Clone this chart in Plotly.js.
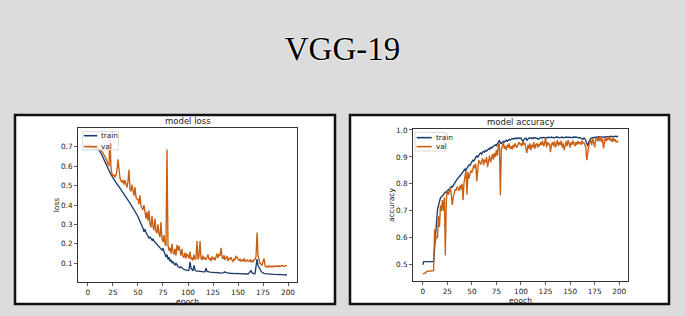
<!DOCTYPE html>
<html>
<head>
<meta charset="utf-8">
<script src="https://cdn.plot.ly/plotly-3.0.1.min.js"></script>
<style>
  html, body { margin: 0; padding: 0; background: #dcdcdc; }
  #chart { width: 685px; height: 316px; }
</style>
</head>
<body>
<div id="chart"></div>
<script>
// values, one per epoch (0..199)
const lossTrain = [
  0.705, 0.700, 0.698, 0.697, 0.696, 0.695, 0.694, 0.693, 0.692, 0.690,
  0.688, 0.683, 0.676, 0.668, 0.657, 0.645, 0.634, 0.622, 0.610, 0.598,
  0.585, 0.572, 0.562, 0.556, 0.549, 0.540, 0.532, 0.524, 0.517, 0.509,
  0.500, 0.494, 0.487, 0.478, 0.470, 0.462, 0.456, 0.449, 0.441, 0.436,
  0.430, 0.418, 0.410, 0.402, 0.392, 0.385, 0.379, 0.370, 0.360, 0.350,
  0.340, 0.329, 0.318, 0.306, 0.294, 0.280, 0.262, 0.275, 0.258, 0.246,
  0.238, 0.230, 0.235, 0.226, 0.220, 0.225, 0.214, 0.208, 0.203, 0.197,
  0.192, 0.188, 0.183, 0.172, 0.168, 0.178, 0.158, 0.150, 0.132, 0.145,
  0.120, 0.132, 0.110, 0.118, 0.102, 0.108, 0.096, 0.092, 0.100, 0.088,
  0.084, 0.080, 0.078, 0.082, 0.074, 0.072, 0.069, 0.067, 0.066, 0.064,
  0.063, 0.065, 0.108, 0.075, 0.068, 0.062, 0.090, 0.066, 0.061, 0.060,
  0.061, 0.059, 0.058, 0.060, 0.057, 0.058, 0.056, 0.057, 0.075, 0.058,
  0.055, 0.056, 0.055, 0.054, 0.055, 0.053, 0.054, 0.052, 0.053, 0.052,
  0.051, 0.052, 0.050, 0.051, 0.050, 0.051, 0.053, 0.056, 0.052, 0.050,
  0.049, 0.050, 0.049, 0.048, 0.049, 0.048, 0.047, 0.048, 0.047, 0.048,
  0.047, 0.046, 0.047, 0.046, 0.047, 0.046, 0.045, 0.046, 0.045, 0.046,
  0.045, 0.050, 0.058, 0.062, 0.052, 0.048, 0.046, 0.047, 0.080, 0.122,
  0.090, 0.078, 0.068, 0.060, 0.054, 0.050, 0.048, 0.047, 0.046, 0.045,
  0.045, 0.044, 0.044, 0.043, 0.044, 0.043, 0.043, 0.042, 0.043, 0.042,
  0.042, 0.043, 0.042, 0.042, 0.041, 0.042, 0.041, 0.042, 0.041, 0.041
];
const lossVal = [
  0.720, 0.705, 0.700, 0.702, 0.698, 0.700, 0.697, 0.699, 0.696, 0.695,
  0.693, 0.690, 0.688, 0.684, 0.676, 0.668, 0.660, 0.652, 0.640, 0.625,
  0.612, 0.600, 0.755, 0.590, 0.560, 0.548, 0.556, 0.545, 0.552, 0.580,
  0.635, 0.560, 0.540, 0.525, 0.515, 0.530, 0.505, 0.528, 0.498, 0.490,
  0.520, 0.582, 0.480, 0.470, 0.505, 0.460, 0.448, 0.492, 0.440, 0.430,
  0.430, 0.405, 0.450, 0.395, 0.385, 0.375, 0.400, 0.345, 0.330, 0.365,
  0.320, 0.372, 0.300, 0.285, 0.345, 0.290, 0.270, 0.330, 0.265, 0.255,
  0.300, 0.250, 0.235, 0.312, 0.225, 0.210, 0.245, 0.200, 0.190, 0.685,
  0.195, 0.165, 0.180, 0.150, 0.200, 0.160, 0.145, 0.175, 0.140, 0.195,
  0.165, 0.190, 0.150, 0.140, 0.175, 0.135, 0.130, 0.155, 0.125, 0.150,
  0.140, 0.125, 0.160, 0.120, 0.130, 0.115, 0.145, 0.120, 0.125, 0.215,
  0.120, 0.135, 0.215, 0.125, 0.118, 0.140, 0.120, 0.130, 0.118, 0.135,
  0.145, 0.120, 0.125, 0.112, 0.135, 0.120, 0.130, 0.115, 0.142, 0.150,
  0.128, 0.148, 0.138, 0.180, 0.132, 0.122, 0.142, 0.118, 0.128, 0.138,
  0.112, 0.128, 0.120, 0.132, 0.116, 0.110, 0.124, 0.116, 0.138, 0.128,
  0.125, 0.115, 0.120, 0.110, 0.118, 0.112, 0.125, 0.108, 0.115, 0.118,
  0.110, 0.112, 0.120, 0.105, 0.115, 0.108, 0.118, 0.120, 0.135, 0.258,
  0.140, 0.110, 0.100, 0.095, 0.090, 0.110, 0.125, 0.088, 0.082, 0.085,
  0.080, 0.088, 0.082, 0.086, 0.080, 0.085, 0.088, 0.082, 0.086, 0.084,
  0.087, 0.083, 0.088, 0.085, 0.090, 0.086, 0.084, 0.088, 0.090, 0.088
];
const accTrain = [
  0.500, 0.512, 0.512, 0.512, 0.512, 0.512, 0.512, 0.512, 0.512, 0.512,
  0.512, 0.512, 0.560, 0.620, 0.680, 0.705, 0.720, 0.735, 0.748, 0.752,
  0.755, 0.760, 0.765, 0.770, 0.768, 0.775, 0.780, 0.778, 0.785, 0.790,
  0.788, 0.795, 0.800, 0.808, 0.812, 0.818, 0.822, 0.828, 0.832, 0.835,
  0.840, 0.845, 0.850, 0.855, 0.852, 0.860, 0.866, 0.870, 0.868, 0.878,
  0.882, 0.888, 0.885, 0.892, 0.900, 0.905, 0.898, 0.908, 0.912, 0.915,
  0.910, 0.918, 0.920, 0.918, 0.925, 0.922, 0.928, 0.930, 0.928, 0.935,
  0.933, 0.938, 0.940, 0.942, 0.945, 0.942, 0.948, 0.955, 0.962, 0.952,
  0.950, 0.955, 0.958, 0.955, 0.960, 0.962, 0.958, 0.963, 0.965, 0.962,
  0.965, 0.968, 0.966, 0.968, 0.970, 0.967, 0.970, 0.968, 0.971, 0.969,
  0.970, 0.962, 0.958, 0.965, 0.968, 0.970, 0.962, 0.968, 0.970, 0.971,
  0.970, 0.968, 0.971, 0.969, 0.972, 0.970, 0.971, 0.968, 0.966, 0.970,
  0.971, 0.972, 0.970, 0.973, 0.971, 0.972, 0.970, 0.973, 0.972, 0.971,
  0.972, 0.974, 0.971, 0.973, 0.970, 0.972, 0.975, 0.972, 0.973, 0.971,
  0.973, 0.972, 0.974, 0.971, 0.973, 0.972, 0.974, 0.973, 0.971, 0.974,
  0.972, 0.973, 0.971, 0.974, 0.972, 0.973, 0.974, 0.972, 0.973, 0.971,
  0.972, 0.970, 0.968, 0.965, 0.970, 0.968, 0.960, 0.945, 0.940, 0.955,
  0.962, 0.968, 0.970, 0.972, 0.970, 0.973, 0.972, 0.974, 0.973, 0.975,
  0.974, 0.973, 0.975, 0.974, 0.972, 0.975, 0.974, 0.976, 0.975, 0.974,
  0.976, 0.975, 0.977, 0.976, 0.974, 0.976, 0.977, 0.975, 0.976, 0.977
];
const accVal = [
  0.466, 0.467, 0.467, 0.470, 0.476, 0.477, 0.477, 0.477, 0.477, 0.477,
  0.477, 0.478, 0.632, 0.590, 0.605, 0.600, 0.680, 0.640, 0.720, 0.700,
  0.740, 0.700, 0.750, 0.535, 0.740, 0.775, 0.760, 0.770, 0.785, 0.760,
  0.722, 0.750, 0.765, 0.780, 0.775, 0.790, 0.782, 0.775, 0.795, 0.780,
  0.800, 0.740, 0.805, 0.830, 0.850, 0.760, 0.845, 0.820, 0.835, 0.850,
  0.842, 0.862, 0.870, 0.858, 0.875, 0.810, 0.870, 0.888, 0.880, 0.872,
  0.885, 0.895, 0.870, 0.890, 0.880, 0.900, 0.862, 0.895, 0.905, 0.880,
  0.895, 0.910, 0.890, 0.915, 0.900, 0.925, 0.905, 0.945, 0.950, 0.758,
  0.925, 0.945, 0.955, 0.930, 0.940, 0.925, 0.945, 0.935, 0.950, 0.930,
  0.940, 0.928, 0.945, 0.935, 0.950, 0.940, 0.935, 0.948, 0.955, 0.945,
  0.950, 0.940, 0.958, 0.945, 0.952, 0.930, 0.915, 0.945, 0.930, 0.950,
  0.925, 0.945, 0.935, 0.955, 0.930, 0.945, 0.950, 0.935, 0.948, 0.940,
  0.955, 0.945, 0.960, 0.940, 0.950, 0.972, 0.935, 0.955, 0.945, 0.950,
  0.918, 0.945, 0.955, 0.940, 0.958, 0.935, 0.950, 0.962, 0.940, 0.955,
  0.945, 0.960, 0.935, 0.950, 0.925, 0.945, 0.958, 0.940, 0.962, 0.950,
  0.935, 0.955, 0.945, 0.960, 0.950, 0.940, 0.955, 0.945, 0.958, 0.950,
  0.955, 0.945, 0.960, 0.950, 0.955, 0.945, 0.935, 0.888, 0.925, 0.940,
  0.955, 0.962, 0.945, 0.968, 0.955, 0.935, 0.965, 0.970, 0.958, 0.972,
  0.960, 0.975, 0.955, 0.968, 0.932, 0.962, 0.975, 0.958, 0.970, 0.965,
  0.975, 0.960, 0.968, 0.955, 0.972, 0.958, 0.965, 0.955, 0.958, 0.955
];
const epochs = lossTrain.map((_, i) => i);
const epochTicks = [0, 25, 50, 75, 100, 125, 150, 175, 200];
const lossTicks = [0.1, 0.2, 0.3, 0.4, 0.5, 0.6, 0.7];
const accTicks = [0.5, 0.6, 0.7, 0.8, 0.9, 1.0];

const TRAIN_C = '#1c3d6e';
const VAL_C = '#c85f12';
const W = 685, H = 316;
const px = (v) => v / W;
const py = (v) => 1 - v / H;

function line(y, color, xa, ya, name) {
  return { x: epochs, y: y, xaxis: xa, yaxis: ya, type: 'scatter', mode: 'lines',
           name: name, showlegend: false, line: { color: color, width: 1.35 } };
}

const data = [
  line(lossTrain, TRAIN_C, 'x', 'y', 'train'),
  line(lossVal, VAL_C, 'x', 'y', 'val'),
  line(accTrain, TRAIN_C, 'x2', 'y2', 'train'),
  line(accVal, VAL_C, 'x2', 'y2', 'val')
];

const tickFont = { family: 'DejaVu Sans', size: 7.3, color: '#222' };
const axTitleFont = { family: 'DejaVu Sans', size: 7.5, color: '#222' };
function axisBase() {
  return { showline: true, mirror: true, linecolor: '#333', linewidth: 1,
           ticks: 'outside', ticklen: 3, tickwidth: 0.8, tickcolor: '#333',
           showgrid: false, zeroline: false, tickfont: tickFont };
}

const layout = {
  width: W, height: H,
  margin: { l: 0, r: 0, t: 0, b: 0 },
  paper_bgcolor: '#dcdcdc',
  plot_bgcolor: '#ffffff',
  showlegend: false,
  title: { text: 'VGG-19', x: 0.5, xanchor: 'center', y: py(48), yanchor: 'middle',
           font: { family: 'Liberation Serif', size: 33, color: '#000',
                   shadow: '0 0 2px #fff, 0 0 2px #fff' } },
  xaxis: Object.assign(axisBase(), {
    domain: [px(78), px(297)], anchor: 'y', range: [-9.95, 208.95],
    tickvals: epochTicks,
    title: { text: 'epoch', font: axTitleFont, standoff: 0 }
  }),
  yaxis: Object.assign(axisBase(), {
    domain: [py(282), py(128)], anchor: 'x', range: [0.004, 0.796],
    tickvals: lossTicks, tickformat: '.1f',
    title: { text: 'loss', font: axTitleFont, standoff: 0 }
  }),
  xaxis2: Object.assign(axisBase(), {
    domain: [px(413), px(628)], anchor: 'y2', range: [-9.95, 208.95],
    tickvals: epochTicks,
    title: { text: 'epoch', font: axTitleFont, standoff: 0 }
  }),
  yaxis2: Object.assign(axisBase(), {
    domain: [py(281), py(129)], anchor: 'x2', range: [0.44, 1.0036],
    tickvals: accTicks, tickformat: '.1f',
    title: { text: 'accuracy', font: axTitleFont, standoff: 0 }
  }),
  shapes: [],
  annotations: []
};

// white framed panels behind each plot
[[15, 335], [350, 669]].forEach(([x0, x1]) => {
  layout.shapes.push({ type: 'rect', xref: 'paper', yref: 'paper', layer: 'below',
    x0: px(x0), x1: px(x1), y0: py(304), y1: py(115),
    fillcolor: '#ffffff', line: { color: '#111', width: 2.5 } });
});

// subplot titles
const titleFont = { family: 'DejaVu Sans', size: 8.5, color: '#222' };
layout.annotations.push(
  { text: 'model loss', xref: 'x domain', yref: 'y domain', x: 0.5, y: 1,
    xanchor: 'center', yanchor: 'bottom', showarrow: false, font: titleFont },
  { text: 'model accuracy', xref: 'x2 domain', yref: 'y2 domain', x: 0.5, y: 1,
    xanchor: 'center', yanchor: 'bottom', showarrow: false, font: titleFont }
);

// small matplotlib-style legends in the upper left corner
function addLegend(xa, ya, box, lineX, rowsY, textX) {
  const xr = xa + ' domain', yr = ya + ' domain';
  layout.shapes.push({ type: 'rect', xref: xr, yref: yr, layer: 'above',
    x0: box[0], x1: box[1], y0: box[2], y1: box[3],
    fillcolor: 'rgba(255,255,255,0.85)', line: { color: '#cfcfcf', width: 0.8 } });
  [['train', TRAIN_C], ['val', VAL_C]].forEach(([label, color], i) => {
    layout.shapes.push({ type: 'line', xref: xr, yref: yr, layer: 'above',
      x0: lineX[0], x1: lineX[1], y0: rowsY[i], y1: rowsY[i],
      line: { color: color, width: 1.6 } });
    layout.annotations.push({ text: label, xref: xr, yref: yr, x: textX, y: rowsY[i],
      xanchor: 'left', yanchor: 'middle', showarrow: false,
      font: { family: 'DejaVu Sans', size: 7.3, color: '#222' } });
  });
}
addLegend('x', 'y', [0.021, 0.184, 0.857, 0.976], [0.027, 0.088], [0.95, 0.879], 0.098);
addLegend('x2', 'y2', [0.0093, 0.149, 0.855, 0.978], [0.017, 0.087], [0.943, 0.884], 0.100);

Plotly.newPlot('chart', data, layout, { displayModeBar: false, staticPlot: true });
</script>
</body>
</html>
